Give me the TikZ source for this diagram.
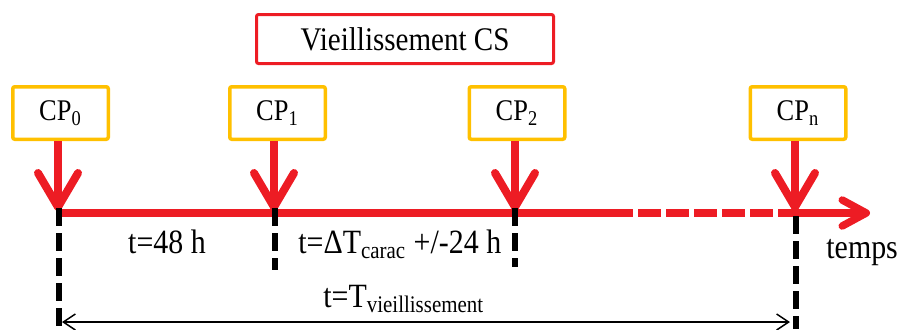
\documentclass[tikz,border=0pt]{standalone}
\usepackage{fontspec}
\setmainfont{Liberation Serif}[FakeStretch=0.88]
\usetikzlibrary{arrows.meta}
\definecolor{cpred}{HTML}{ED1C24}
\definecolor{cpgold}{HTML}{FFC000}
\begin{document}
\begin{tikzpicture}[x=0.5pt, y=-0.5pt,
  cpbox/.style={draw=cpgold, line width=1.75pt, rounded corners=1pt, minimum width=47.75pt, minimum height=26.25pt, inner sep=0pt, font=\fontsize{15}{17}\selectfont},
  csbox/.style={draw=cpred, line width=1.5pt, rounded corners=1pt, minimum width=148.5pt, minimum height=24.5pt, inner sep=0pt, font=\fontsize{16.5}{18}\selectfont},
  lbl/.style={inner sep=0pt, font=\fontsize{17}{19}\selectfont},
  redline/.style={draw=cpred, line width=3.75pt},
  downarr/.style={draw=cpred, line width=4pt, -{Straight Barb[length=17pt, width=20pt, round]}, shorten >=1pt},
  tickline/.style={draw=black, line width=3pt, dash pattern=on 9pt off 3.5pt},
  spanarr/.style={draw=black, line width=0.75pt, {Straight Barb[length=6pt, width=8pt]}-{Straight Barb[length=6pt, width=8pt]}}]
\useasboundingbox (0,0) rectangle (901,329);
% boxes
\node[csbox] (cs) at (405,39) {Vieillissement CS};
\node[cpbox] (cp0) at (60.5,113) {CP\textsubscript{0}};
\node[cpbox] (cp1) at (277.5,113) {CP\textsubscript{1}};
\node[cpbox] (cp2) at (517,113) {CP\textsubscript{2}};
\node[cpbox] (cpn) at (798,113) {CP\textsubscript{n}};
% time axis
\coordinate (t0) at (58,213);
\coordinate (t1) at (274,213);
\coordinate (t2) at (515,213);
\coordinate (tn) at (795,213);
\coordinate (dash0) at (633,213);
\coordinate (dash1) at (638,213);
\coordinate (dash2) at (778,213);
\coordinate (tend) at (870,213);
\draw[redline] (t0) -- (dash0);
\draw[redline, dash pattern=on 11.5pt off 2.5pt] (dash1) -- (dash2);
\draw[redline, -{Straight Barb[length=12pt, width=13pt, round]}] (dash2) -- (tend);
\draw[downarr] (t0 |- cp0.south) -- (t0);
\draw[downarr] (t1 |- cp1.south) -- (t1);
\draw[downarr] (t2 |- cp2.south) -- (t2);
\draw[downarr] (tn |- cpn.south) -- (tn);
% markers
\draw[tickline] (59,208) -- (59,329);
\draw[tickline] (275,208) -- (275,270);
\draw[tickline] (515,208) -- (515,267);
\draw[tickline] (796,216) -- (796,329);
% labels
\node[lbl, anchor=base] (d48) at (167,253) {t=48 h};
\node[lbl, anchor=base west] (dcarac) at (298,253) {t=ΔT\textsubscript{carac} +/-24 h};
\node[lbl, anchor=base west] (temps) at (826,258) {temps};
\coordinate (span0) at (62,322);
\coordinate (spann) at (790,322);
\draw[spanarr] (span0) -- (spann);
\node[lbl, anchor=base west] (dtotal) at (323,307) {t=T\textsubscript{vieillissement}};
\end{tikzpicture}
\end{document}
